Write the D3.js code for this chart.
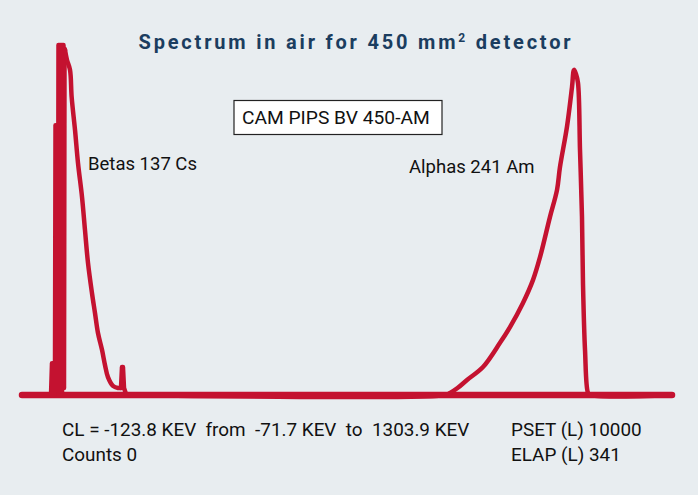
<!DOCTYPE html>
<html>
<head>
<meta charset="utf-8">
<script src="https://cdn.jsdelivr.net/npm/d3@7"></script>
<style>
  body { margin: 0; background: #e8edf0; }
  text { font-family: Roboto, "Noto Sans", sans-serif; }
  .note { font-size: 18.5px; fill: #111; white-space: pre; }
</style>
</head>
<body>
<div id="root"></div>
<script>
const WIDTH = 698;
const HEIGHT = 495;
const margin = { left: 22, right: 26, top: 45, bottom: 100 };

// energy range from the readout
const kevRange = [-71.7, 1303.9];

// noisy low-energy channels of the beta region (137Cs)
const noiseKev = [-71.7, -12.4, -10.3, -8.2, -6.1, -4.0, -1.9, -0.8, 0.3, 1.3, 2.4, 3.4, 4.5, 5.5, 6.6, 7.7, 8.7, 9.8, 10.8, 11.9, 13.0, 14.0, 15.1, 16.1, 17.2, 18.3, 19.3];
const noiseCounts = [0, 0, 0, 91, 91, 0, 43, 771, 14, 771, 14, 771, 14, 1000, 14, 1000, 14, 1000, 9, 1000, 9, 1000, 20, 1000, 20, 990, 986];

// beta tail
const betaKev = [19.3, 23.5, 29.9, 33.4, 40.5, 46.8, 55.3, 61.6, 68.0, 76.4, 82.8, 89.1, 97.6, 103.9, 110.2, 120.8, 131.5, 137.8];
const betaCounts = [986, 957, 929, 851, 757, 663, 566, 471, 377, 291, 234, 177, 129, 86, 51, 26, 20, 20];

// small peak at the end of the beta tail
const spikeKev = [137.8, 139.9, 142.0, 144.2, 148.4, 156.9];
const spikeCounts = [20, 80, 80, 20, 3, 0];

// alpha region (241Am)
const alphaKev = [156.9, 823.5, 834.1, 850.0, 870.1, 903.9, 939.9, 961.0, 988.5, 1009.8, 1024.6, 1045.7, 1060.6, 1066.8, 1081.6, 1092.3, 1096.5, 1100.7, 1105.0, 1109.2, 1113.4, 1115.5, 1119.8, 1126.1, 1130.4, 1303.9];
const alphaCounts = [0, 0, 6, 20, 43, 80, 149, 194, 263, 329, 394, 509, 586, 651, 766, 880, 929, 917, 891, 700, 509, 320, 129, 6, 0, 0];

const title = 'Spectrum in air for 450 mm';
const boxLabel = 'CAM PIPS BV 450-AM';
const peakLabels = ['Betas 137 Cs', 'Alphas 241 Am'];
const readout = [
  ['CL = -123.8 KEV  from  -71.7 KEV  to  1303.9 KEV', 'Counts 0'],
  ['PSET (L) 10000', 'ELAP (L) 341']
];

const x = d3.scaleLinear().domain(kevRange).range([margin.left, WIDTH - margin.right]);
const y = d3.scaleLinear().domain([0, 1000]).range([HEIGHT - margin.bottom, margin.top]);

const svg = d3.select('#root').append('svg')
    .attr('width', WIDTH)
    .attr('height', HEIGHT);

svg.append('rect')
    .attr('width', WIDTH)
    .attr('height', HEIGHT)
    .attr('fill', '#e8edf0');

const RED = '#c41230';

// baseline (zero counts)
svg.append('line')
    .attr('x1', x(kevRange[0]))
    .attr('x2', x(kevRange[1]))
    .attr('y1', y(0))
    .attr('y2', y(0))
    .attr('stroke', RED)
    .attr('stroke-width', 6.5)
    .attr('stroke-linecap', 'round');

const zip = (a, b) => a.map((k, i) => [k, b[i]]);

const sharp = d3.line().x(d => x(d[0])).y(d => y(d[1]));
const smooth = d3.line().x(d => x(d[0])).y(d => y(d[1])).curve(d3.curveCatmullRom);

const parts = [
  [zip(noiseKev, noiseCounts), sharp],
  [zip(betaKev, betaCounts), smooth],
  [zip(spikeKev, spikeCounts), sharp],
  [zip(alphaKev, alphaCounts), smooth]
];

svg.selectAll('.spectrum')
    .data(parts)
    .enter().append('path')
    .attr('class', 'spectrum')
    .attr('d', d => d[1](d[0]))
    .attr('fill', 'none')
    .attr('stroke', RED)
    .attr('stroke-width', 4.5)
    .attr('stroke-linejoin', 'round')
    .attr('stroke-linecap', 'round');

// title
const t = svg.append('text')
    .attr('x', 356)
    .attr('y', 49)
    .attr('text-anchor', 'middle')
    .style('font-size', '20px')
    .style('font-weight', 'bold')
    .style('letter-spacing', '2.8px')
    .attr('fill', '#1b3d5f')
    .text(title);
t.append('tspan')
    .attr('dy', -7)
    .style('font-size', '12px')
    .text('2');
t.append('tspan')
    .attr('dy', 7)
    .text(' detector');

// instrument box
svg.append('rect')
    .attr('x', 234)
    .attr('y', 100.5)
    .attr('width', 208)
    .attr('height', 34)
    .attr('fill', '#fff')
    .attr('stroke', '#222')
    .attr('stroke-width', 1.2);
svg.append('text')
    .attr('class', 'note')
    .attr('x', 242)
    .attr('y', 124)
    .style('font-size', '19.2px')
    .text(boxLabel);

svg.selectAll('.peak')
    .data(peakLabels)
    .enter().append('text')
    .attr('class', 'note peak')
    .attr('x', (d, i) => i ? 409 : 88)
    .attr('y', (d, i) => i ? 173 : 170)
    .text(d => d);

const cols = svg.selectAll('.readout')
    .data(readout)
    .enter().append('g')
    .attr('class', 'readout')
    .attr('transform', (d, i) => `translate(${i ? 511 : 62}, 0)`);

cols.selectAll('text')
    .data(d => d)
    .enter().append('text')
    .attr('class', 'note')
    .style('font-size', '18.9px')
    .attr('y', (d, i) => 436 + i * 25)
    .text(d => d);
</script>
</body>
</html>
